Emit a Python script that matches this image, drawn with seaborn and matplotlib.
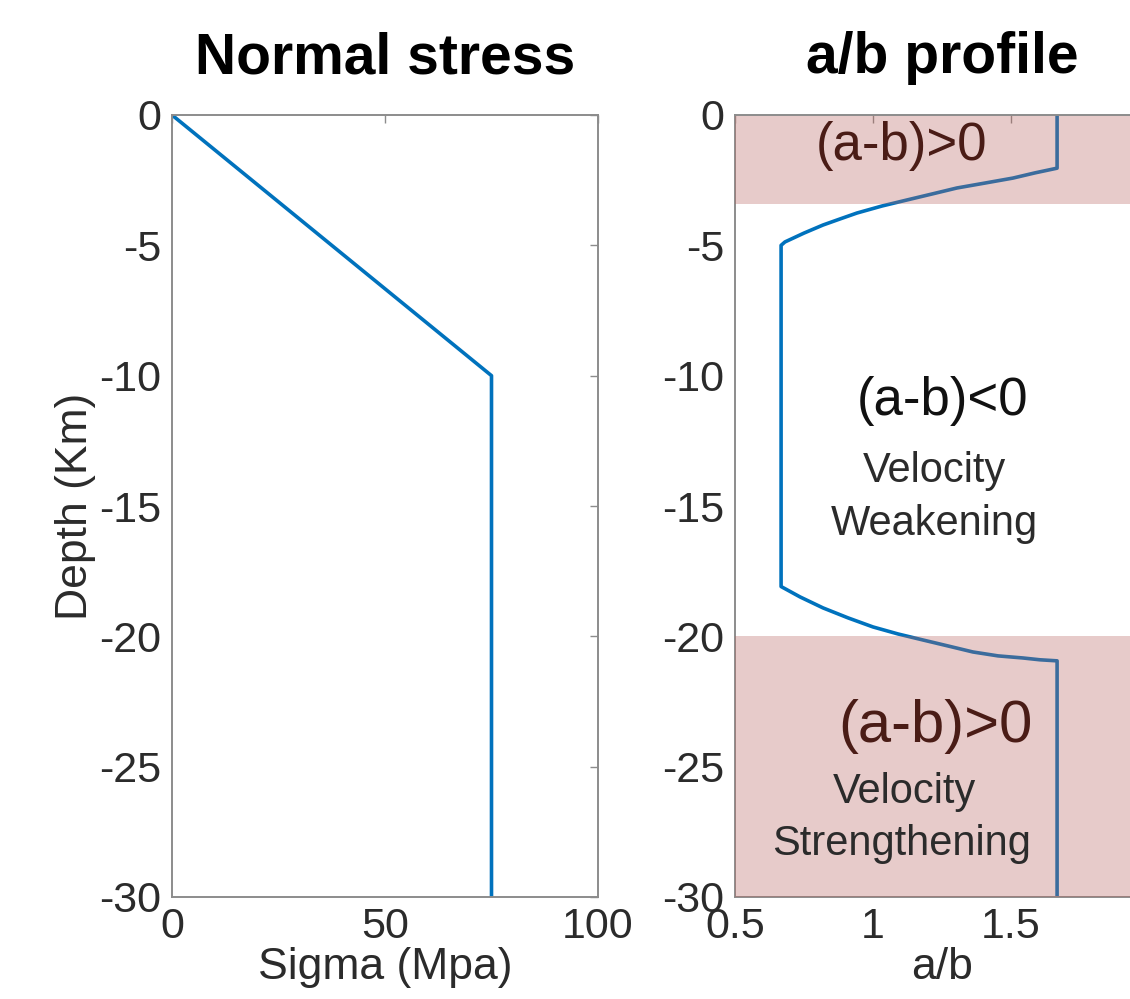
import matplotlib
matplotlib.use("Agg")
import matplotlib.pyplot as plt
import seaborn as sns
import pandas as pd

# ---- data ----
sigma_mpa = [0, 75, 75]
sigma_depth = [0, -10, -30]

ab_depth = [0, -2.04, -2.22, -2.42, -2.61, -2.80, -3.03, -3.26, -3.49, -3.76,
            -3.99, -4.22, -4.53, -4.87, -5.0,
            -18.09, -18.49, -18.91, -19.29, -19.64, -19.91, -20.14, -20.37,
            -20.6, -20.75, -20.83, -20.9, -20.94, -30]
ab_value = [1.667, 1.667, 1.587, 1.507, 1.406, 1.304, 1.214, 1.123, 1.033, 0.942,
            0.880, 0.819, 0.750, 0.681, 0.667,
            0.667, 0.736, 0.819, 0.909, 1.0, 1.091, 1.181, 1.272,
            1.362, 1.453, 1.543, 1.605, 1.667, 1.667]

band_top = (-3.4, 0)
band_bottom = (-30, -20)

sigma_ticks = [0, 50, 100]
ab_ticks = [0.5, 1, 1.5]
depth_ticks = [0, -5, -10, -15, -20, -25, -30]

# ---- style ----
sns.set_style("white")
plt.rcParams['font.family'] = ['Liberation Sans', 'DejaVu Sans']
LINE = "#0072BD"
SPINE = "#8c8c8c"
TXT = "#2b2b2b"
BROWN = "#4a1c16"
BAND = (184/255, 98/255, 92/255)

fig = plt.figure(figsize=(11.30, 9.99), dpi=100)
W, H = 1130, 999
ax1 = fig.add_axes([172/W, (H-897)/H, 426/W, 782/H])
ax2 = fig.add_axes([735/W, (H-897)/H, 414/W, 782/H])

df1 = pd.DataFrame({"sigma": sigma_mpa, "depth": sigma_depth})
df2 = pd.DataFrame({"ab": ab_value, "depth": ab_depth})

sns.lineplot(data=df1, x="sigma", y="depth", sort=False, estimator=None,
             color=LINE, lw=2.6, ax=ax1)
sns.lineplot(data=df2, x="ab", y="depth", sort=False, estimator=None,
             color=LINE, lw=2.6, ax=ax2)

ax1.set_xlim(0, 100)
ax2.set_xlim(0.5, 2.0)
for ax in (ax1, ax2):
    ax.set_ylim(-30, 0)
    ax.set_yticks(depth_ticks)
    ax.set_yticklabels([str(t) for t in depth_ticks])
    ax.tick_params(axis="both", direction="in", top=True, right=True,
                   length=6, width=1.0, color=SPINE, labelsize=31,
                   labelcolor=TXT)
    ax.tick_params(axis="y", pad=8)
    ax.tick_params(axis="x", pad=7)
    for s in ax.spines.values():
        s.set_visible(True)
        s.set_color(SPINE)
        s.set_linewidth(1.4)
    ax.set_ylabel("")
    ax.set_xlabel("")

ax1.set_xticks(sigma_ticks)
ax1.set_xticklabels([str(t) for t in sigma_ticks])
ax2.set_xticks(ab_ticks)
ax2.set_xticklabels(["0.5", "1", "1.5"])

ax1.set_xlabel("Sigma (Mpa)", fontsize=32, color=TXT, labelpad=0)
ax2.set_xlabel("a/b", fontsize=32, color=TXT, labelpad=0)
ax1.set_ylabel("Depth (Km)", fontsize=32, color=TXT, labelpad=2)

ax1.set_title("Normal stress", fontsize=41, fontweight="bold", pad=30, color="black")
ax2.set_title("a/b profile", fontsize=41, fontweight="bold", pad=30, color="black")

ax2.axhspan(*band_top, color=BAND, alpha=0.325, lw=0, zorder=3)
ax2.axhspan(*band_bottom, color=BAND, alpha=0.325, lw=0, zorder=3)
ax2.spines["top"].set_zorder(4)

ax2.text(1.103, -1.73, "(a-b)>0", fontsize=38, color=BROWN, ha="center", va="baseline", zorder=5)
ax2.text(1.252, -11.5, "(a-b)<0", fontsize=38, color="#111111", ha="center", va="baseline", zorder=5)
ax2.text(1.223, -14.08, "Velocity", fontsize=30, color=TXT, ha="center", va="baseline", zorder=5)
ax2.text(1.221, -16.11, "Weakening", fontsize=30, color=TXT, ha="center", va="baseline", zorder=5)
ax2.text(1.228, -24.04, "(a-b)>0", fontsize=43, color=BROWN, ha="center", va="baseline", zorder=5)
ax2.text(1.114, -26.39, "Velocity", fontsize=30, color=TXT, ha="center", va="baseline", zorder=5)
ax2.text(1.103, -28.39, "Strengthening", fontsize=30, color=TXT, ha="center", va="baseline", zorder=5)

fig.savefig("out.png", dpi=100)
